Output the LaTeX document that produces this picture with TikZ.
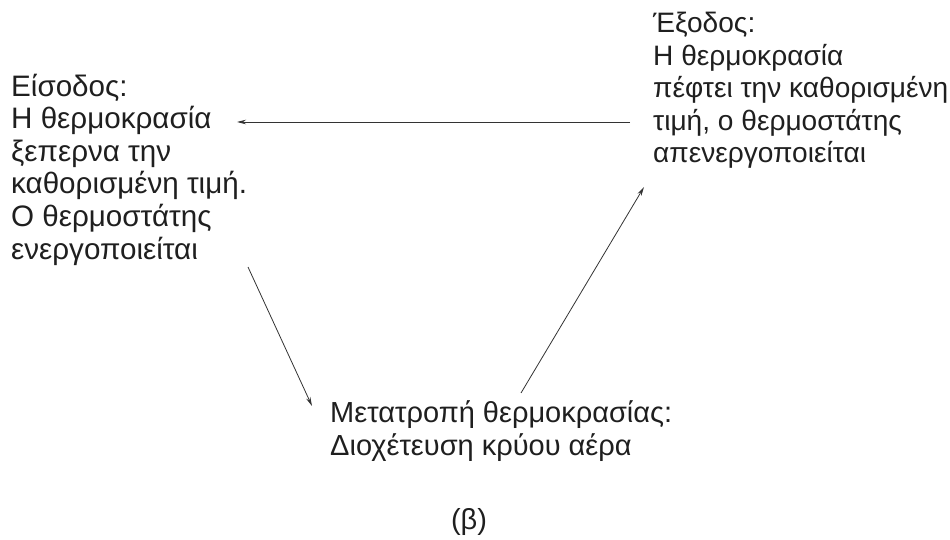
\documentclass[tikz,border=0pt]{standalone}
\usepackage{fontspec}
\setmainfont{Liberation Sans}
\usetikzlibrary{arrows.meta}
\begin{document}
\begin{tikzpicture}[x=1pt,y=-1pt,
  txt/.style={inner sep=0pt, align=left, anchor=base west,
    font=\fontsize{29}{32.6}\selectfont, text=black!88},
  flow/.style={draw=black!80, line width=0.8pt,
    -{Stealth[length=9pt,width=4.5pt]}}]
  \useasboundingbox (0,0) rectangle (950,540);

  % the three stages of the cycle (placed by the baseline of their last line)
  \node[txt, font=\fontsize{29.6}{32.6}\selectfont] (in) at (11,259)
    {Είσοδος:\\Η θερμοκρασία\\ξεπερνα την\\καθορισμένη τιμή.\\Ο θερμοστάτης\\ενεργοποιείται};
  \node[txt, font=\fontsize{28.1}{32.6}\selectfont] (out) at (653,163)
    {Έξοδος:\\Η θερμοκρασία\\πέφτει την καθορισμένη\\τιμή, ο θερμοστάτης\\απενεργοποιείται};
  \node[txt] (conv) at (330,455) {Μετατροπή θερμοκρασίας:\\Διοχέτευση κρύου αέρα};
  \node[txt, anchor=base] (cap) at (469,529) {(β)};

  % arrow end points beside the texts
  \coordinate (outW)  at (630,122);
  \coordinate (inE)   at (237,122);
  \coordinate (inS)   at (248,267);
  \coordinate (convW) at (312,406);
  \coordinate (convN) at (521,393);
  \coordinate (outS)  at (644,187);

  \draw[flow] (outW) -- (inE);
  \draw[flow] (inS) -- (convW);
  \draw[flow] (convN) -- (outS);
\end{tikzpicture}
\end{document}
